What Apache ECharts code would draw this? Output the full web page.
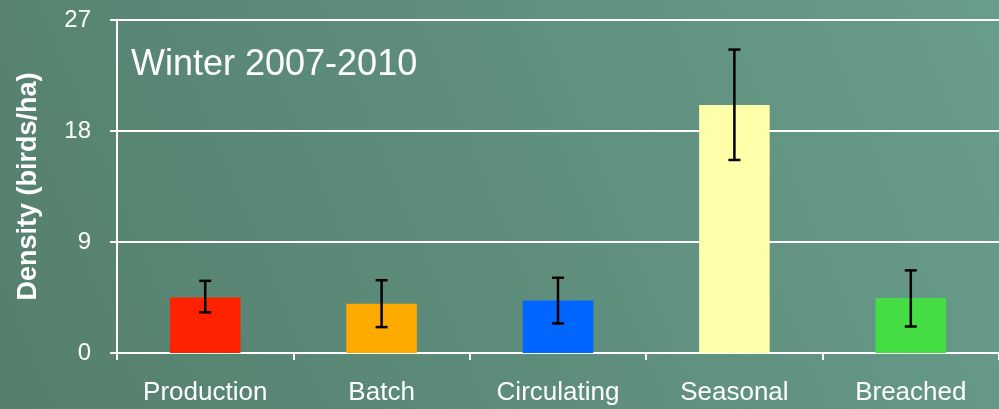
<!DOCTYPE html>
<html>
<head>
<meta charset="utf-8">
<script src="https://cdn.jsdelivr.net/npm/echarts@6/dist/echarts.min.js"></script>
<style>
  html, body { margin: 0; padding: 0; }
  #chart { width: 999px; height: 409px; }
</style>
</head>
<body>
<div id="chart"></div>
<script>
// data
const categories = ['Production', 'Batch', 'Circulating', 'Seasonal', 'Breached'];
const density = [4.5, 4.0, 4.25, 20.1, 4.45];
const errLow = [3.3, 2.1, 2.4, 15.65, 2.15];
const errHigh = [5.85, 5.9, 6.1, 24.6, 6.7];
const barColors = ['#ff2200', '#ffaa00', '#0066ff', '#ffffaa', '#44dd44'];
const yTicks = [0, 9, 18, 27];

const chart = echarts.init(document.getElementById('chart'));

const option = {
  backgroundColor: {
    type: 'linear', x: 0, y: 1, x2: 1, y2: 0,
    colorStops: [
      { offset: 0, color: '#557f6d' },
      { offset: 1, color: '#689c8b' }
    ]
  },
  title: {
    text: 'Winter 2007-2010',
    left: 126,
    top: 42,
    textStyle: { color: '#fff', fontSize: 36, fontWeight: 'normal', fontFamily: 'Liberation Sans' }
  },
  grid: { left: 117, right: -4, top: 20, bottom: 56 },
  xAxis: {
    type: 'category',
    data: categories,
    axisLine: { lineStyle: { color: '#fff', width: 2 } },
    axisTick: { show: true, length: 7, lineStyle: { color: '#fff', width: 2 } },
    axisLabel: { color: '#fff', fontSize: 26, margin: 27, fontFamily: 'Liberation Sans' }
  },
  yAxis: {
    type: 'value',
    min: 0, max: 27, interval: 9,
    name: 'Density (birds/ha)',
    nameLocation: 'middle',
    nameGap: 75,
    nameTextStyle: { color: '#fff', fontSize: 27, fontWeight: 'bold', fontFamily: 'Liberation Sans' },
    axisLine: { show: true, lineStyle: { color: '#fff', width: 2 } },
    axisTick: { show: true, inside: false, length: 7, lineStyle: { color: '#fff', width: 2 } },
    axisLabel: {
      color: '#fff', fontSize: 24, margin: 26, fontFamily: 'Liberation Sans',
      formatter: v => yTicks.includes(v) ? String(v) : ''
    },
    splitLine: { lineStyle: { color: '#fff', width: 2 } }
  },
  series: [
    {
      type: 'bar',
      barWidth: '40%',
      data: density.map((v, i) => ({ value: v, itemStyle: { color: barColors[i] } })),
      animation: false
    },
    {
      type: 'custom',
      data: categories.map((c, i) => [i, errLow[i], errHigh[i]]),
      renderItem: function (params, api) {
        const lo = api.coord([api.value(0), api.value(1)]);
        const hi = api.coord([api.value(0), api.value(2)]);
        const half = 6;
        const style = { stroke: '#000', lineWidth: 2.5 };
        return {
          type: 'group',
          children: [
            { type: 'line', shape: { x1: lo[0], y1: lo[1], x2: hi[0], y2: hi[1] }, style: style },
            { type: 'line', shape: { x1: lo[0] - half, y1: lo[1], x2: lo[0] + half, y2: lo[1] }, style: style },
            { type: 'line', shape: { x1: hi[0] - half, y1: hi[1], x2: hi[0] + half, y2: hi[1] }, style: style }
          ]
        };
      },
      z: 10,
      animation: false
    }
  ]
};

chart.setOption(option);
</script>
</body>
</html>
